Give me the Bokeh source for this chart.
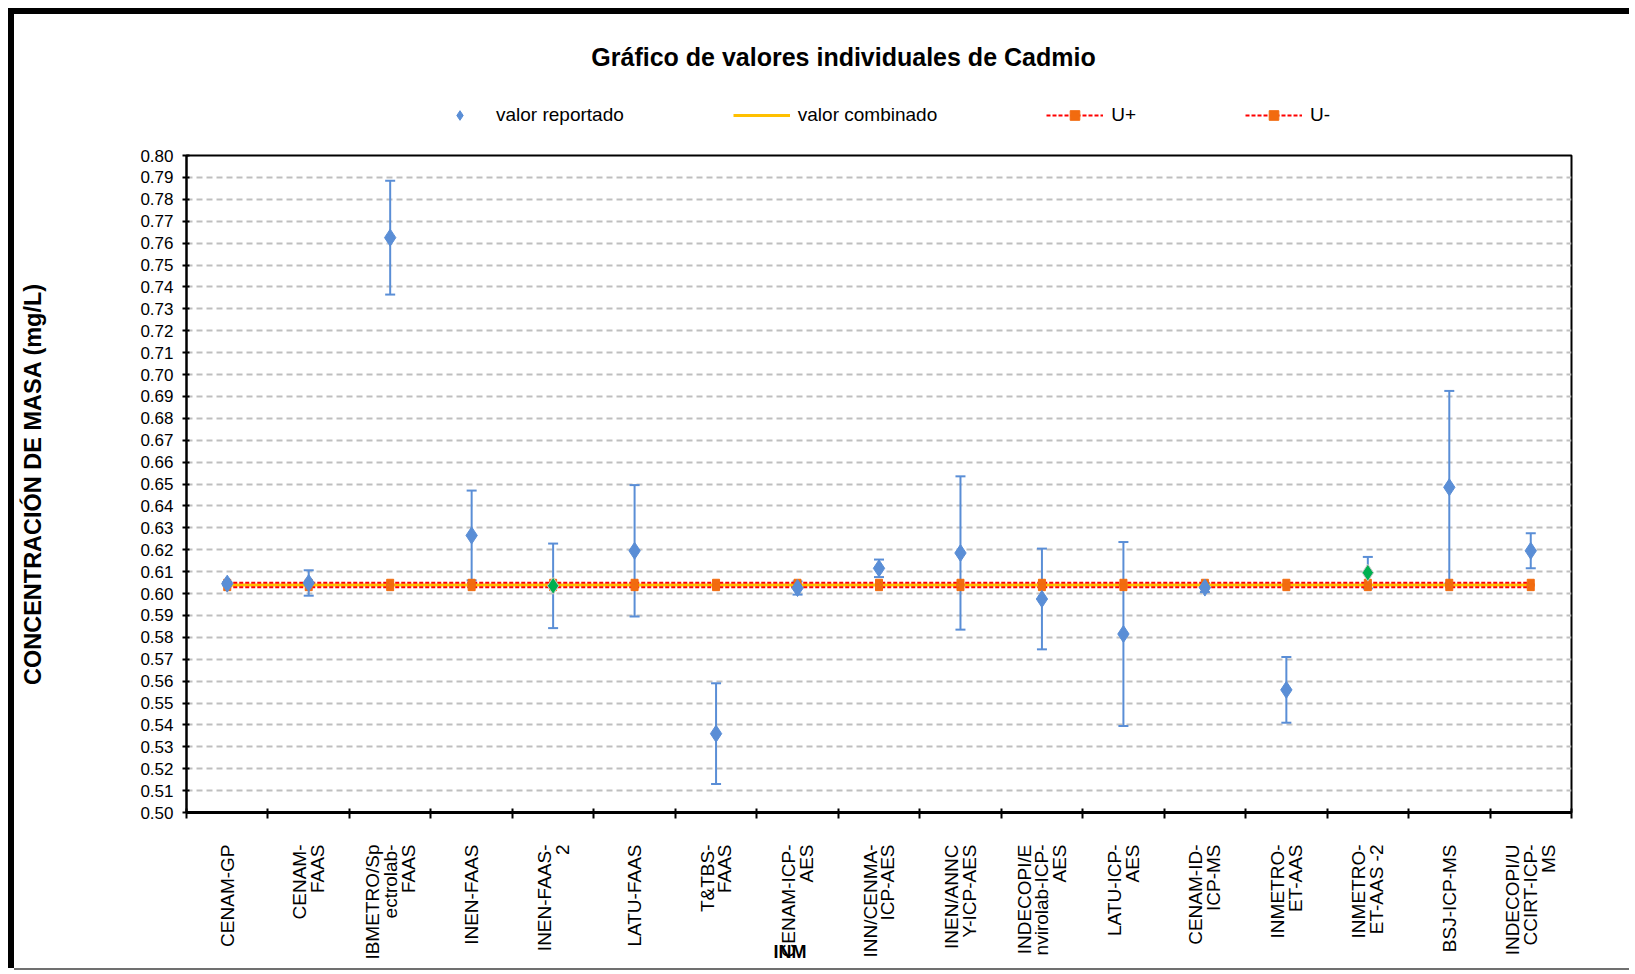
import math
from bokeh.plotting import figure
from bokeh.layouts import column
from bokeh.models import (Range1d, FixedTicker, PrintfTickFormatter, Legend, LegendItem,
                          ColumnDataSource, Whisker, TeeHead, Title, Label)
from bokeh.embed import file_html
from bokeh.resources import INLINE

# ---------------- data ----------------
categories = ["CENAM-GP", "CENAM-\nFAAS", "IBMETRO/Sp\nectrolab-\nFAAS", "INEN-FAAS",
              "INEN-FAAS-\n2", "LATU-FAAS", "T&TBS-\nFAAS", "CENAM-ICP-\nAES",
              "INN/CENMA-\nICP-AES", "INEN/ANNC\nY-ICP-AES", "INDECOPI/E\nnvirolab-ICP-\nAES",
              "LATU-ICP-\nAES", "CENAM-ID-\nICP-MS", "INMETRO-\nET-AAS", "INMETRO-\nET-AAS -2",
              "BSJ-ICP-MS", "INDECOPI/U\nCCIRT-ICP-\nMS"]
valor_reportado = [0.6045, 0.6048, 0.7625, 0.6265, 0.6035, 0.6195, 0.5360, 0.6025, 0.6115,
                   0.6185, 0.5975, 0.5815, 0.6027, 0.5560, 0.6095, 0.6485, 0.6195]
incertidumbre = [0.0008, 0.0058, 0.0260, 0.0205, 0.0193, 0.0300, 0.0230, 0.0030, 0.0040,
                 0.0350, 0.0230, 0.0420, 0.0020, 0.0150, 0.0072, 0.0440, 0.0080]
destacado = [False, False, False, False, True, False, False, False, False,
             False, False, False, False, False, True, False, False]
valor_combinado = [0.6039] * 17
u_mas = [0.6049] * 17
u_menos = [0.6029] * 17
y_ticks = [0.50, 0.51, 0.52, 0.53, 0.54, 0.55, 0.56, 0.57, 0.58, 0.59, 0.60, 0.61, 0.62,
           0.63, 0.64, 0.65, 0.66, 0.67, 0.68, 0.69, 0.70, 0.71, 0.72, 0.73, 0.74, 0.75,
           0.76, 0.77, 0.78, 0.79, 0.80]

FONT = "Liberation Sans"
BLUE = "#5A8ED6"
GREEN = "#00B050"
ORANGE = "#F26B0F"
RED = "#FF0000"
YELLOW = "#FFC000"

W = 1615
H_HEAD = 128
H_MAIN = 826
FRAME_W = 1385

xs = list(range(1, len(categories) + 1))

# ---------------- header (title + legend) ----------------
# header frame is aligned with the main frame by the column layout; its ranges are in pixels
head = figure(width=W, height=H_HEAD, output_backend="svg", toolbar_location=None,
              x_range=Range1d(0, FRAME_W), y_range=Range1d(20, 20 + H_HEAD),
              x_axis_type=None, y_axis_type=None,
              min_border_left=0, min_border_right=0, min_border_top=0, min_border_bottom=0)
head.outline_line_color = None
head.grid.visible = False
head.background_fill_color = "white"
head.border_fill_color = "white"
head.styles = {"box-shadow": "-6px 0 0 0 #000, 0 -6px 0 0 #000, -6px -6px 0 0 #000"}

head.add_layout(Label(x=657, y=20 + H_HEAD - 42,
                      text="Gráfico de valores individuales de Cadmio",
                      text_font=FONT, text_font_style="bold", text_font_size="25px",
                      text_align="center", text_baseline="middle", text_color="black"))

# legend proxies (their data lie outside the header's visible range)
h_pts = head.scatter(xs, valor_reportado, marker="diamond", size=10,
                     fill_color=BLUE, line_color=BLUE)
h_comb = head.line(xs, valor_combinado, line_color=YELLOW, line_width=3)
h_up = head.line(xs, u_mas, line_color=RED, line_width=2, line_dash="4 2")
h_up_m = head.scatter(xs, u_mas, marker="square", size=6, fill_color=ORANGE, line_color=ORANGE)
h_dn = head.line(xs, u_menos, line_color=RED, line_width=2, line_dash="4 2")
h_dn_m = head.scatter(xs, u_menos, marker="square", size=6, fill_color=ORANGE,
                      line_color=ORANGE)

legend = Legend(items=[
    LegendItem(label="valor reportado", renderers=[h_pts]),
    LegendItem(label="valor combinado", renderers=[h_comb]),
    LegendItem(label="U+", renderers=[h_up, h_up_m]),
    LegendItem(label="U-", renderers=[h_dn, h_dn_m]),
], orientation="horizontal", location=(245, 15), glyph_width=57, glyph_height=24,
    label_standoff=8, spacing=109, padding=0, margin=0,
    label_text_font=FONT, label_text_font_size="19px", label_text_color="black",
    background_fill_alpha=0, border_line_alpha=0)
head.add_layout(legend, "center")

# ---------------- main plot ----------------
src = ColumnDataSource(dict(
    x=xs, y=valor_reportado,
    lo=[v - u for v, u in zip(valor_reportado, incertidumbre)],
    hi=[v + u for v, u in zip(valor_reportado, incertidumbre)],
    fill=[GREEN if d else BLUE for d in destacado],
    edge=["#C8C8C8" if d else BLUE for d in destacado],
))

p = figure(width=W, height=H_MAIN, output_backend="svg", toolbar_location=None,
           x_range=Range1d(0.5, len(categories) + 0.5), y_range=Range1d(0.50, 0.80),
           min_border_left=172, min_border_right=58, min_border_top=13,
           min_border_bottom=156)
p.styles = {"box-shadow": "-6px 0 0 0 #000, 0 2px 0 0 #707070"}
p.background_fill_color = "white"
p.border_fill_color = "white"
p.outline_line_color = "black"
p.outline_line_width = 2

# grid
p.xgrid.visible = False
p.ygrid.ticker = FixedTicker(ticks=y_ticks[1:-1])
p.ygrid.grid_line_color = "#BFBFBF"
p.ygrid.grid_line_width = 2
p.ygrid.grid_line_dash = "6 4"

# y axis
p.yaxis.ticker = FixedTicker(ticks=y_ticks)
p.yaxis.formatter = PrintfTickFormatter(format="%.2f")
p.yaxis.major_label_text_font = FONT
p.yaxis.major_label_text_font_size = "17px"
p.yaxis.major_label_text_color = "black"
p.yaxis.axis_line_width = 2
p.yaxis.major_tick_out = 4
p.yaxis.major_tick_in = 3
p.yaxis.major_tick_line_width = 2
p.yaxis.minor_tick_line_color = None
p.yaxis.major_label_standoff = 9
p.yaxis.axis_label = "CONCENTRACIÓN DE MASA (mg/L)"
p.yaxis.axis_label_text_font = FONT
p.yaxis.axis_label_text_font_style = "bold"
p.yaxis.axis_label_text_font_size = "23.5px"
p.yaxis.axis_label_text_color = "black"
p.yaxis.axis_label_standoff = 91

# x axis
p.xaxis.ticker = FixedTicker(ticks=xs, minor_ticks=[i + 0.5 for i in range(len(categories) + 1)])
p.xaxis.major_label_overrides = {i: c for i, c in zip(xs, categories)}
p.xaxis.major_label_orientation = math.pi / 2
p.xaxis.major_label_text_font = FONT
p.xaxis.major_label_text_font_size = "19px"
p.xaxis.major_label_text_line_height = 0.85
p.xaxis.major_label_text_color = "black"
p.xaxis.major_tick_out = 0
p.xaxis.major_tick_in = 0
p.xaxis.minor_tick_out = 6
p.xaxis.minor_tick_in = 4
p.xaxis.minor_tick_line_color = "black"
p.xaxis.minor_tick_line_width = 2
p.xaxis.axis_line_width = 3
p.xaxis.major_label_standoff = 26

# error bars
wh = Whisker(source=src, base="x", upper="hi", lower="lo", dimension="height",
             line_color=BLUE, line_width=2,
             upper_head=TeeHead(size=10, line_color=BLUE, line_width=2),
             lower_head=TeeHead(size=10, line_color=BLUE, line_width=2))
p.add_layout(wh)

# reference lines
p.line(xs, valor_combinado, line_color=YELLOW, line_width=3)
p.line(xs, u_mas, line_color=RED, line_width=2, line_dash="4 2")
p.line(xs, u_menos, line_color=RED, line_width=2, line_dash="4 2")
p.scatter(xs, u_mas, marker="square", size=7, fill_color=ORANGE, line_color=ORANGE)
p.scatter(xs, u_menos, marker="square", size=7, fill_color=ORANGE, line_color=ORANGE)

# reported values
p.scatter("x", "y", source=src, marker="diamond", size=17,
          fill_color="fill", line_color="edge", line_width=1)

p.add_layout(Title(text="INM", align="left", offset=587, standoff=-42,
                   vertical_align="top", text_font=FONT, text_font_style="bold",
                   text_font_size="18px", text_color="black"), "below")

layout = column(head, p, spacing=0)
layout.styles = {"margin-left": "14px", "margin-top": "14px"}

open("out.html", "w").write(file_html(layout, INLINE))
